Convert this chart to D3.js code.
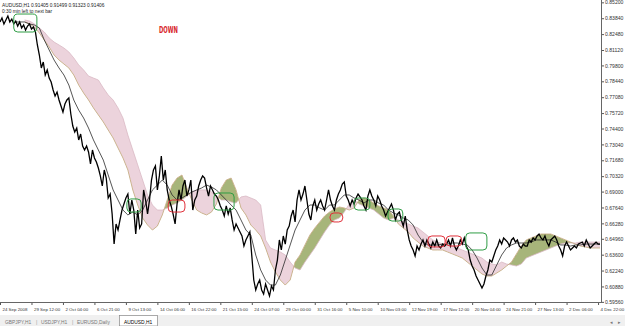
<!DOCTYPE html>
<html><head><meta charset="utf-8">
<script src="https://cdn.jsdelivr.net/npm/d3@7"></script>
<style>html,body{margin:0;padding:0;background:#fff;overflow:hidden}</style>
</head><body><svg id="c" width="625" height="326"></svg>
<script>
// ---------- data ----------
const priceStep = 4;   // bars between close samples
const ichiStep = 10;   // bars between ichimoku samples
const closes = [
.8352,.8386,.8335,.8369,.8403,.8352,.8377,.8335,.8360,.8317,.8352,.8300,.8326,.8283,.8317,.8335,.8292,.8309,.8266,.8155,
.8069,.7958,.8009,.7898,.7941,.7872,.7838,.7770,.7718,.7752,.7684,.7633,.7581,.7650,.7684,.7701,.7564,.7461,.7410,.7444,
.7342,.7393,.7290,.7256,.7290,.7239,.7136,.7256,.7188,.7153,.7102,.7034,.6948,.7085,.7016,.6845,.6879,.6708,.6451,.6623,
.6571,.6657,.6742,.6794,.6845,.6879,.6708,.6828,.6742,.6537,.6742,.6588,.6623,.6914,.6828,.6708,.6828,.6999,.7085,.7119,
.6914,.7034,.7205,.6999,.7085,.6914,.6828,.6777,.6708,.6623,.6794,.6914,.6828,.6948,.6999,.6862,.6914,.6999,.6742,.6828,
.6862,.6948,.6999,.7034,.7016,.6931,.6862,.6948,.6914,.6879,.6862,.6828,.6777,.6742,.6691,.6777,.6708,.6760,.6657,.6571,
.6623,.6588,.6554,.6520,.6434,.6486,.6520,.6554,.6349,.6143,.6058,.6109,.6143,.6058,.6023,.6109,.6058,.6006,.6092,.6058,
.6229,.6314,.6486,.6400,.6520,.6451,.6571,.6605,.6691,.6742,.6640,.6828,.6914,.6828,.6879,.6948,.6828,.6708,.6657,.6777,
.6828,.6742,.6794,.6828,.6777,.6742,.6828,.6914,.6828,.6777,.6742,.6828,.6879,.6914,.6965,.6982,.6862,.6828,.6777,.6828,
.6794,.6845,.6879,.6854,.6828,.6777,.6742,.6862,.6914,.6862,.6828,.6777,.6862,.6828,.6777,.6742,.6691,.6725,.6760,.6794,
.6742,.6657,.6708,.6725,.6657,.6605,.6691,.6571,.6486,.6434,.6400,.6349,.6434,.6400,.6451,.6486,.6434,.6486,.6451,.6417,
.6468,.6434,.6486,.6434,.6417,.6451,.6434,.6451,.6486,.6434,.6503,.6434,.6400,.6434,.6486,.6451,.6503,.6434,.6400,.6314,
.6263,.6229,.6177,.6143,.6109,.6075,.6109,.6177,.6229,.6314,.6297,.6349,.6400,.6434,.6486,.6451,.6503,.6486,.6468,.6434,
.6486,.6503,.6468,.6486,.6434,.6417,.6451,.6434,.6434,.6486,.6468,.6503,.6486,.6520,.6537,.6503,.6486,.6520,.6468,.6434,
.6486,.6503,.6520,.6486,.6434,.6400,.6349,.6434,.6468,.6434,.6400,.6417,.6434,.6417,.6451,.6460,.6468,.6434,.6486,.6451,
.6417,.6434,.6451,.6468,.6451,.6451
];
const kijun = [
null,null,null,
.8352,.8352,.8352,.8335,.8326,.8300,.8198,.8112,.8026,.7958,.7898,.7812,.7684,.7598,.7530,.7444,.7342,.7256,.7170,.7042,
.6914,.6828,.6742,.6700,.6725,.6700,.6742,.6828,.6914,.6956,.6999,.6956,.6871,.6828,.6845,.6871,.6896,.6914,
.6931,
.6956,.6939,.6914,.6871,.6828,.6785,.6742,.6657,.6571,.6528,.6357,.6229,.6143,.6100,.6100,.6186,.6314,.6443,.6571,.6657,
.6742,.6785,.6785,.6760,.6742,.6785,.6785,.6828,.6871,.6871,.6845,.6828,.6802,.6828,.6828,.6802,.6785,.6742,.6717,.6700,
.6674,
.6657,.6614,.6528,.6468,.6443,.6443,.6443,.6451,.6451,.6460,.6460,.6451,.6443,.6400,.6331,.6246,.6186,.6186,.6272,.6357,
.6417,.6443,.6460,.6460,.6460,.6468,.6486,.6486,.6486,.6486,.6468,.6443,.6443,.6434,.6443,.6443,.6451,.6451,.6451,.6451
];
const spanA = [
null,null,null,null,null,
.8352,.8335,.8309,.8258,.8198,.8138,.8069,.8026,.7992,.7958,.7898,.7812,.7744,.7684,.7616,.7556,.7496,.7427,.7359,.7273,
.7188,.7085,.6914,.6785,.6674,.6614,.6571,.6605,.6700,.6828,.6956,.7016,.7042,.6931,.6828,.6742,
.6717,
.6700,.6725,.6794,.6931,.6999,.7016,.6914,.6760,.6700,.6614,.6571,.6520,.6417,.6297,.6212,.6143,.6100,.6143,.6297,.6357,
.6443,.6528,.6588,.6640,.6691,.6725,.6751,.6768,.6760,.6742,.6760,.6828,.6845,.6828,.6802,.6777,.6760,.6742,.6691,.6623,
.6588,
.6554,.6503,.6468,.6434,.6417,.6400,.6400,.6400,.6383,.6366,.6349,.6331,.6297,.6263,.6229,.6195,.6177,.6177,.6203,.6229,
.6263,.6297,.6366,.6434,.6486,.6503,.6520,.6537,.6537,.6537,.6520,.6503,.6486,.6468,.6451,.6434,.6426,.6417,.6417,.6417
];
const spanB = [
null,null,null,null,null,
.8369,.8360,.8335,.8300,.8266,.8215,.8180,.8155,.8129,.8095,.8044,.7984,.7941,.7889,.7872,.7855,.7787,.7727,.7684,.7616,
.7530,.7384,.7256,.7128,.6999,.6871,.6785,.6742,.6742,.6760,.6785,.6802,.6828,.6862,.6896,.6914,
.6914,
.6914,.6896,.6862,.6828,.6828,.6811,.6802,.6854,.6862,.6845,.6828,.6785,.6486,.6417,.6400,.6383,.6357,.6297,.6246,.6229,
.6297,.6357,.6417,.6486,.6554,.6614,.6657,.6674,.6725,.6794,.6828,.6794,.6777,.6760,.6742,.6708,.6674,.6657,.6674,.6657,
.6640,
.6623,.6605,.6588,.6554,.6520,.6486,.6468,.6451,.6443,.6434,.6417,.6400,.6383,.6366,.6349,.6331,.6297,.6280,.6272,.6297,
.6280,.6272,.6263,.6280,.6331,.6349,.6366,.6383,.6400,.6417,.6434,.6451,.6460,.6460,.6460,.6468,.6468,.6468,.6468,.6468
];
const priceTicks = [0.85200,0.83840,0.82480,0.81120,0.79800,0.78440,0.77080,0.75720,0.74400,0.73040,
                    0.71680,0.70320,0.69000,0.67640,0.66280,0.64960,0.63600,0.62240,0.60880,0.59560];
const timeLabels = ["24 Sep 2008","29 Sep 12:00","2 Oct 04:00","6 Oct 21:00","9 Oct 13:00","14 Oct 06:00",
  "16 Oct 22:00","21 Oct 15:00","24 Oct 07:00","29 Oct 00:00","31 Oct 16:00","5 Nov 10:00","10 Nov 03:00",
  "12 Nov 19:00","17 Nov 12:00","20 Nov 04:00","24 Nov 21:00","27 Nov 13:00","2 Dec 06:00","4 Dec 22:00"];
const timeLabelStep = 64; // bars between time labels
const boxStart = [28, 258, 342, 435, 671, 720, 789, 870, 907, 947];
const boxEnd   = [75, 287, 376, 476, 697, 752, 819, 905, 939, 990];
const boxHigh  = [.8420,.6837,.6828,.6888,.6717,.6845,.6751,.6520,.6520,.6546];
const boxLow   = [.8266,.6725,.6725,.6742,.6640,.6742,.6648,.6426,.6434,.6400];
const boxType  = ["buy","buy","sell","buy","sell","buy","buy","sell","sell","buy"];
const tabs = ["GBPJPY,H1","USDJPY,H1","EURUSD,Daily","AUDUSD,H1"];
const header = "AUDUSD,H1  0.91405 0.91499 0.91323 0.91406";
const subHeader = "0:30 min left to next bar";
const trendText = "DOWN";
const totalBars = 1222;

// ---------- drawing ----------
const svg = d3.select("#c");
const W = 625, H = 326, plotR = 601, plotB = 302;
const x = d3.scaleLinear().domain([0, totalBars]).range([0, plotR]);
const y = d3.scaleLinear().domain([0.854 - 304*0.000856, 0.854]).range([304, 0]);
const font = "'Liberation Sans', Arial, sans-serif";

svg.append("rect").attr("width", W).attr("height", H).attr("fill", "#fff");
const defs = svg.append("defs");
defs.append("clipPath").attr("id","plot").append("rect").attr("x",0).attr("y",0).attr("width",plotR).attr("height",plotB);

const ichi = spanA.map((a,j)=>({bar:j*ichiStep, a:a, b:spanB[j]}));
const def = d=>d.a!=null && d.b!=null;
const areaAB = d3.area().defined(def).x(d=>x(d.bar)).y0(d=>y(d.b)).y1(d=>y(d.a));
defs.append("clipPath").attr("id","belowA").append("path")
  .attr("d", d3.area().defined(def).x(d=>x(d.bar)).y0(plotB+5).y1(d=>y(d.a))(ichi));
defs.append("clipPath").attr("id","aboveA").append("path")
  .attr("d", d3.area().defined(def).x(d=>x(d.bar)).y0(-5).y1(d=>y(d.a))(ichi));

const g = svg.append("g").attr("clip-path","url(#plot)");
g.append("g").attr("clip-path","url(#belowA)").append("path").attr("d", areaAB(ichi)).attr("fill","#a7b57a");
g.append("g").attr("clip-path","url(#aboveA)").append("path").attr("d", areaAB(ichi)).attr("fill","#ecd3dc");
g.append("path").attr("d", d3.line().defined(def).x(d=>x(d.bar)).y(d=>y(d.b))(ichi))
  .attr("fill","none").attr("stroke","#d9b9c4").attr("stroke-width",0.8);
g.append("path").attr("d", d3.line().defined(def).x(d=>x(d.bar)).y(d=>y(d.a))(ichi))
  .attr("fill","none").attr("stroke","#c4a77c").attr("stroke-width",0.8);

const kj = kijun.map((v,j)=>({bar:j*ichiStep, v:v}));
g.append("path").attr("d", d3.line().defined(d=>d.v!=null).x(d=>x(d.bar)).y(d=>y(d.v))(kj))
  .attr("fill","none").attr("stroke","#2a2a2a").attr("stroke-width",0.8);

const pr = closes.map((v,i)=>({bar:i*priceStep, v:v}));
g.append("path").attr("d", d3.line().x(d=>x(d.bar)).y(d=>y(d.v))(pr))
  .attr("fill","none").attr("stroke","#000").attr("stroke-width",1.3).attr("stroke-linejoin","miter");

boxStart.forEach((s,i)=>{
  g.append("rect").attr("x",x(s)).attr("y",y(boxHigh[i]))
   .attr("width",x(boxEnd[i])-x(s)).attr("height",y(boxLow[i])-y(boxHigh[i]))
   .attr("rx",4).attr("fill","none").attr("stroke", boxType[i]==="buy" ? "#2f9d45" : "#e0303a").attr("stroke-width",1);
});

// axes
const ay = svg.append("g").attr("transform",`translate(${plotR},0)`)
  .call(d3.axisRight(y).tickValues(priceTicks).tickSize(3).tickFormat(d3.format(".5f")));
ay.select(".domain").remove();
ay.selectAll("line").attr("stroke","#555");
ay.selectAll("text").attr("x",4).attr("font-family",font).attr("font-size","5.1px").attr("fill","#333");

const tickBars = timeLabels.map((t,k)=>k*timeLabelStep);
const ax = svg.append("g").attr("transform",`translate(0,${plotB})`)
  .call(d3.axisBottom(x).tickValues(tickBars).tickSize(3).tickFormat((d,k)=>timeLabels[k]));
ax.select(".domain").remove();
ax.selectAll("line").attr("stroke","#555");
ax.selectAll("text").attr("text-anchor","start").attr("x",2).attr("y",6)
  .attr("font-family",font).attr("font-size","4.4px").attr("fill","#333");

svg.append("line").attr("x1",plotR+0.5).attr("x2",plotR+0.5).attr("y1",0).attr("y2",plotB).attr("stroke","#666");
svg.append("line").attr("x1",0).attr("x2",plotR+1).attr("y1",plotB+0.5).attr("y2",plotB+0.5).attr("stroke","#666");

// header texts
svg.append("text").attr("x",2).attr("y",6.5).attr("font-family",font).attr("font-size","4.8px").attr("fill","#222").text(header);
svg.append("text").attr("x",2).attr("y",12.5).attr("font-family",font).attr("font-size","4.8px").attr("fill","#222").text(subHeader);
svg.append("text").attr("x",159).attr("y",33).attr("font-family","'DejaVu Sans Condensed','DejaVu Sans',sans-serif")
  .attr("font-weight","bold").attr("font-size","8.5px").attr("fill","#d8262b").attr("textLength",19)
  .attr("lengthAdjust","spacingAndGlyphs").text(trendText);

// tabs bar
svg.append("rect").attr("x",0).attr("y",315).attr("width",W).attr("height",11).attr("fill","#f0f0f0");
const tabX = [5, 41, 77, 124];
tabs.forEach((t,i)=>{
  if (i===tabs.length-1) {
    svg.append("rect").attr("x",119.5).attr("y",315.5).attr("width",38).attr("height",10.5)
      .attr("fill","#fff").attr("stroke","#888").attr("stroke-width",0.7);
  }
  svg.append("text").attr("x",tabX[i]).attr("y",323.5).attr("font-family",font).attr("font-size","4.9px")
    .attr("fill", i===tabs.length-1 ? "#000" : "#777").text(t);
  if (i<2) svg.append("text").attr("x",tabX[i+1]-5).attr("y",323.5).attr("font-family",font)
    .attr("font-size","4.9px").attr("fill","#999").text("|");
});
svg.append("text").attr("x",610).attr("y",323.5).attr("font-family",font).attr("font-size","5px").attr("fill","#777").text("\u25C2");
svg.append("text").attr("x",618).attr("y",323.5).attr("font-family",font).attr("font-size","5px").attr("fill","#777").text("\u25B8");
</script></body></html>
